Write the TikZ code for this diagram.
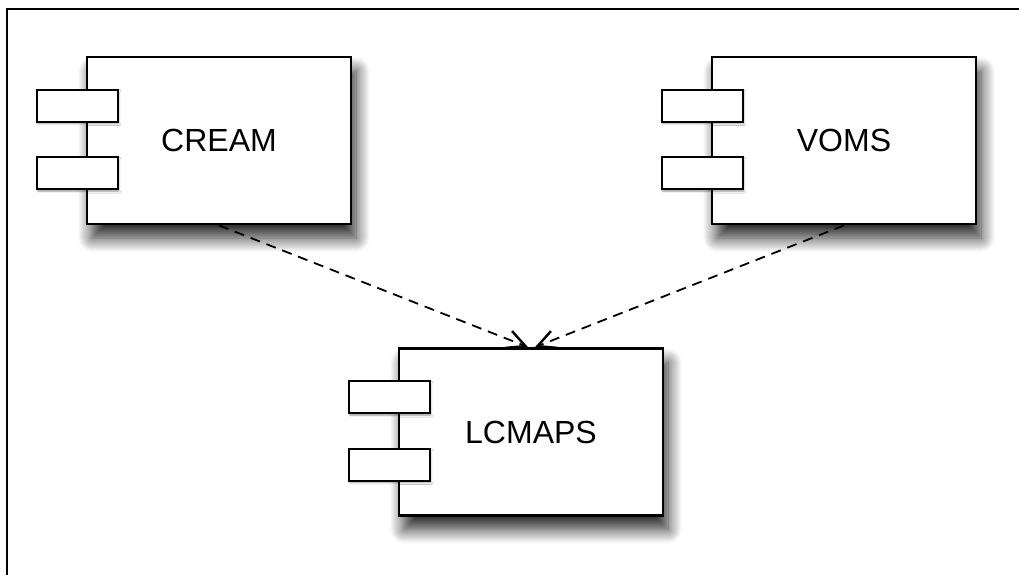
\documentclass[tikz,border=0pt]{standalone}
\usepackage{fontspec}
\setmainfont{Liberation Sans}
\usetikzlibrary{arrows.meta,shadows.blur}
\tikzset{
  comp/.style={draw, line width=1.4pt, fill=white, minimum width=132pt, minimum height=83.5pt,
    inner sep=0pt, font=\fontsize{16}{19}\selectfont,
    blur shadow={shadow xshift=2.5pt, shadow yshift=-7pt, shadow blur radius=7pt, shadow blur steps=14, shadow opacity=85}},
  port/.style={draw, line width=0.9pt, fill=white, minimum width=40.5pt, minimum height=16pt, inner sep=0pt,
    blur shadow={shadow xshift=0.6pt, shadow yshift=-1pt, shadow blur radius=1pt, shadow opacity=40}},
  dep/.style={line width=0.9pt, dash pattern=on 5pt off 3.5pt, -{Straight Barb[length=9pt,width=9pt,line width=1.2pt]}},
  frameline/.style={line width=1pt}
}
\begin{document}
\begin{tikzpicture}[x=0.5pt,y=-0.5pt]
\useasboundingbox (0,0) rectangle (1019,574);
\draw[frameline] (7,580) -- (7,9) -- (1025,9);
\node[comp] (cream) at (219,140.5) {CREAM};
\node[comp] (voms) at (844,140.5) {VOMS};
\node[comp] (lcmaps) at (531,432) {LCMAPS};
\foreach \b in {cream,voms,lcmaps}{
  \node[port] (\b p1) at ([shift={(-8.5,50)}]\b.north west) {};
  \node[port] (\b p2) at ([shift={(-8.5,117.5)}]\b.north west) {};
}
\coordinate (lin1) at ([xshift=-1.5pt]lcmaps.north);
\coordinate (lin2) at ([xshift=2pt]lcmaps.north);
\draw[dep] (cream.south) -- (lin1);
\draw[dep] (voms.south) -- (lin2);
\end{tikzpicture}
\end{document}
